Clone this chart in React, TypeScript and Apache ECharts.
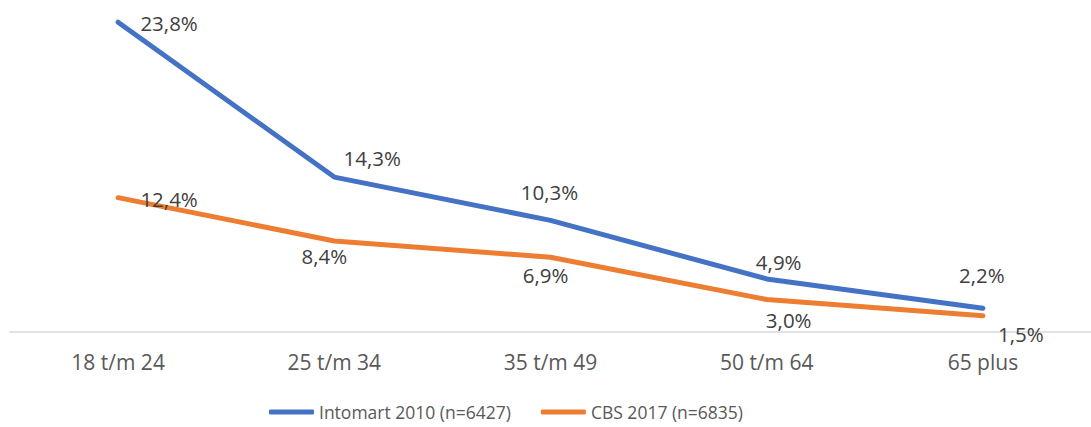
import React, { useEffect, useRef } from "react";
import * as echarts from "echarts";

const categories = ["18 t/m 24", "25 t/m 34", "35 t/m 49", "50 t/m 64", "65 plus"];
const seriesNames = ["Intomart 2010 (n=6427)", "CBS 2017 (n=6835)"];
// plotted positions
const intomartValues = [28.6, 14.3, 10.3, 4.9, 2.2];
const cbsValues = [12.4, 8.4, 6.9, 3.0, 1.5];
// data label texts as printed in the picture
const intomartLabels = ["23,8%", "14,3%", "10,3%", "4,9%", "2,2%"];
const cbsLabels = ["12,4%", "8,4%", "6,9%", "3,0%", "1,5%"];

// label placement (style)
const intomartOffsets: [number, number][] = [[51, 1], [38, -19], [-1, -28], [12, -17], [-1, -33]];
const cbsOffsets: [number, number][] = [[51, 1], [-10, 15], [-5, 18], [22, 20], [38, 18]];

const BLUE = "#4472C4";
const ORANGE = "#ED7D31";
const FONT = "'Open Sans', sans-serif";

function buildData(values: number[], labels: string[], offsets: [number, number][]) {
  return values.map((v, i) => ({
    value: v,
    label: { formatter: labels[i], offset: offsets[i] },
  }));
}

export default function App() {
  const ref = useRef<HTMLDivElement>(null);
  useEffect(() => {
    if (!ref.current) return;
    const chart = echarts.init(ref.current, undefined, { renderer: "svg" });
    const labelCommon = {
      show: true,
      position: "inside" as const,
      align: "center" as const,
      verticalAlign: "middle" as const,
      color: "#404040",
      fontSize: 20.5,
      fontFamily: FONT,
    };
    chart.setOption({
      animation: false,
      backgroundColor: "#ffffff",
      grid: { left: 10, right: -10, top: 7, bottom: 95 },
      legend: {
        data: [
          { name: seriesNames[0], itemStyle: { color: BLUE } },
          { name: seriesNames[1], itemStyle: { color: ORANGE } },
        ],
        left: 264,
        top: 398,
        padding: 5,
        icon: "roundRect",
        itemWidth: 45,
        itemHeight: 5,
        itemGap: 30,
        textStyle: { color: "#595959", fontSize: 17.5, fontFamily: FONT },
      },
      xAxis: {
        type: "category",
        data: categories,
        boundaryGap: true,
        axisLine: { lineStyle: { color: "#D9D9D9", width: 1.5 } },
        axisTick: { show: false },
        axisLabel: { color: "#595959", fontSize: 21, fontFamily: FONT, margin: 19 },
      },
      yAxis: { type: "value", min: 0, max: 30, show: false, splitLine: { show: false } },
      series: [
        {
          name: seriesNames[0],
          type: "line",
          data: buildData(intomartValues, intomartLabels, intomartOffsets),
          color: BLUE,
          symbol: "circle",
          symbolSize: 2,
          showSymbol: true,
          itemStyle: { color: BLUE },
          lineStyle: { width: 5, cap: "round", join: "round", color: BLUE },
          label: labelCommon,
        },
        {
          name: seriesNames[1],
          type: "line",
          data: buildData(cbsValues, cbsLabels, cbsOffsets),
          color: ORANGE,
          symbol: "circle",
          symbolSize: 2,
          showSymbol: true,
          itemStyle: { color: ORANGE },
          lineStyle: { width: 5, cap: "round", join: "round", color: ORANGE },
          label: labelCommon,
        },
      ],
    });
    return () => chart.dispose();
  }, []);
  return (
    <div
      ref={ref}
      style={{ position: "fixed", left: 0, top: 0, width: 1091, height: 427, background: "#fff" }}
    />
  );
}
